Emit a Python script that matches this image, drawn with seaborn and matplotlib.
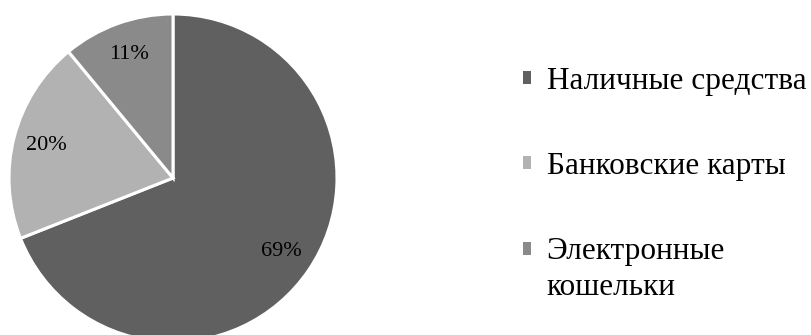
import matplotlib
matplotlib.use("Agg")
import matplotlib.pyplot as plt
from matplotlib.patches import Patch
import seaborn as sns

categories = ["Наличные средства", "Банковские карты", "Электронные\nкошельки"]
shares = [69, 20, 11]
colors = ["#606060", "#b2b2b2", "#8a8a8a"]

sns.set_theme(style="white")
plt.rcParams["font.family"] = ["Liberation Serif", "DejaVu Serif"]

W, H = 811, 335
fig = plt.figure(figsize=(W / 100, H / 100), dpi=100)
cx, cy, r = 173, 178, 164
ax = fig.add_axes([(cx - r) / W, (H - cy - r) / H, 2 * r / W, 2 * r / H])

wedges, texts, autotexts = ax.pie(
    shares, colors=colors, startangle=90, counterclock=False,
    autopct=lambda p: f"{p:.0f}%", pctdistance=0.8, radius=1.0,
    wedgeprops=dict(edgecolor="white", linewidth=2.2),
    textprops=dict(fontsize=16, color="black"),
)
ax.set_xlim(-1, 1)
ax.set_ylim(-1, 1)
ax.set_aspect("equal")
ax.axis("off")

handles = [Patch(facecolor=w.get_facecolor(), edgecolor="none") for w in wedges]
leg = fig.legend(handles, categories, loc="upper left",
                 bbox_to_anchor=(510 / W, 1 - 54 / H), frameon=False,
                 fontsize=22.5, handlelength=0.27, handleheight=0.27,
                 handletextpad=0.5, labelspacing=1.80, borderaxespad=0,
                 labelcolor="black")
for t in leg.get_texts():
    t.set_linespacing(1.3)
h3 = leg.legend_handles[2]
h3.set_y(h3.get_y() + 14.5)

fig.savefig("out.png", dpi=100)
